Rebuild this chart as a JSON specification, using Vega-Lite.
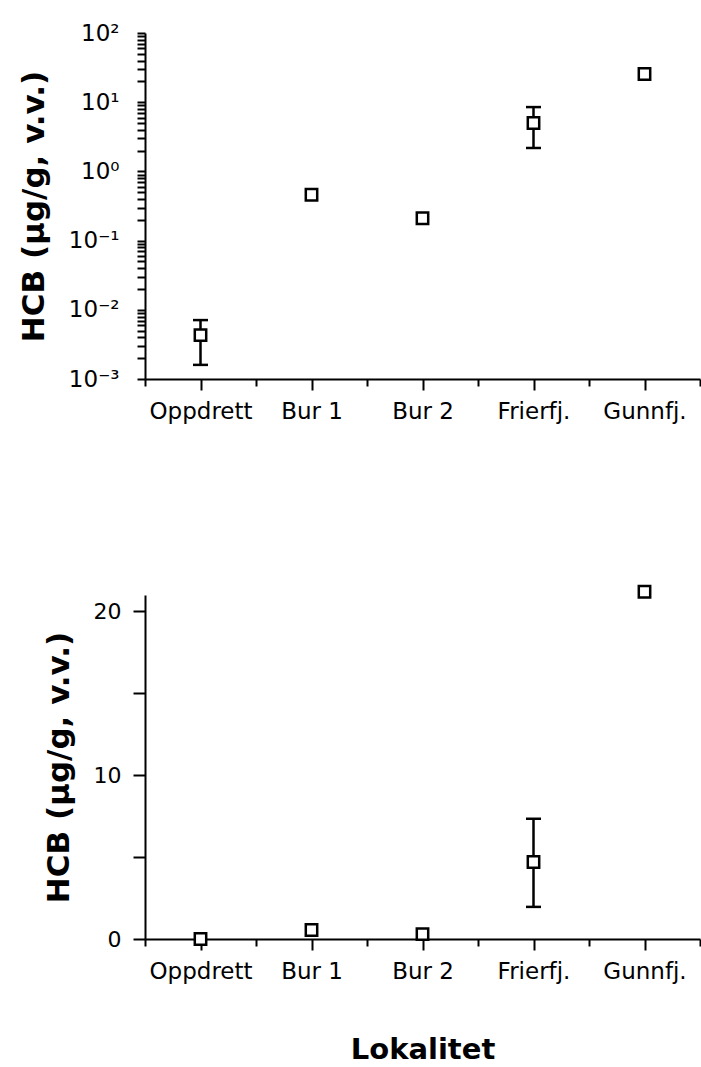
{
  "$schema": "https://vega.github.io/schema/vega-lite/v6.json",
  "background": "white",
  "padding": {"left": 18, "top": 22, "right": 0, "bottom": 0},
  "spacing": 158,
  "config": {
    "view": {"stroke": null},
    "axis": {
      "grid": false,
      "domainColor": "black",
      "domainWidth": 2,
      "tickColor": "black",
      "tickWidth": 2,
      "labelColor": "black",
      "titleColor": "black",
      "labelFont": "DejaVu Sans",
      "titleFont": "DejaVu Sans"
    }
  },
  "datasets": {
    "logpanel": [
      {"site": "Oppdrett", "value": 0.0043, "lo": 0.0016, "hi": 0.0071},
      {"site": "Bur 1", "value": 0.46, "lo": null, "hi": null},
      {"site": "Bur 2", "value": 0.21, "lo": null, "hi": null},
      {"site": "Frierfj.", "value": 5.0, "lo": 2.18, "hi": 8.5},
      {"site": "Gunnfj.", "value": 25.6, "lo": null, "hi": null}
    ],
    "linpanel": [
      {"site": "Oppdrett", "value": 0.004, "lo": null, "hi": null},
      {"site": "Bur 1", "value": 0.55, "lo": null, "hi": null},
      {"site": "Bur 2", "value": 0.3, "lo": null, "hi": null},
      {"site": "Frierfj.", "value": 4.7, "lo": 1.96, "hi": 7.34},
      {"site": "Gunnfj.", "value": 21.2, "lo": null, "hi": null}
    ]
  },
  "vconcat": [
    {
      "width": 555,
      "height": 346,
      "data": {"name": "logpanel"},
      "resolve": {"scale": {"x": "independent"}, "axis": {"x": "independent"}},
      "layer": [
        {
          "mark": {"type": "tick", "opacity": 0},
          "encoding": {
            "x": {
              "field": "site", "type": "nominal",
              "sort": ["Oppdrett", "Bur 1", "Bur 2", "Frierfj.", "Gunnfj."],
              "scale": {"type": "band", "paddingInner": 0, "paddingOuter": 0},
              "axis": {"orient": "bottom", "tickBand": "extent", "labels": false, "domain": false, "tickSize": 7, "title": null}
            },
            "y": {
              "field": "value", "type": "quantitative",
              "scale": {"type": "log", "domain": [0.001, 100], "nice": false},
              "axis": {
                "title": "HCB (µg/g, v.v.)",
                "titleFontSize": 31,
                "titleFontWeight": "bold",
                "titlePadding": 18,
                "labelFontSize": 23,
                "labelPadding": 18,
                "tickSize": 8,
                "labelOverlap": false,
                "labelFlush": false,
                "values": [0.001, 0.002, 0.003, 0.004, 0.005, 0.006, 0.007, 0.008, 0.009,
                           0.01, 0.02, 0.03, 0.04, 0.05, 0.06, 0.07, 0.08, 0.09,
                           0.1, 0.2, 0.3, 0.4, 0.5, 0.6, 0.7, 0.8, 0.9,
                           1, 2, 3, 4, 5, 6, 7, 8, 9,
                           10, 20, 30, 40, 50, 60, 70, 80, 90, 100],
                "labelExpr": "datum.value == 100 ? '10²' : datum.value == 10 ? '10¹' : datum.value == 1 ? '10⁰' : datum.value == 0.1 ? '10⁻¹' : datum.value == 0.01 ? '10⁻²' : datum.value == 0.001 ? '10⁻³' : ''"
              }
            }
          }
        },
        {
          "encoding": {
            "x": {
              "field": "site", "type": "nominal",
              "sort": ["Oppdrett", "Bur 1", "Bur 2", "Frierfj.", "Gunnfj."],
              "scale": {"type": "point", "padding": 0.5},
              "axis": {"orient": "bottom", "title": null, "labelAngle": 0, "labelFontSize": 23, "labelPadding": 10, "tickSize": 11}
            },
            "y": {
              "field": "value", "type": "quantitative",
              "scale": {"type": "log", "domain": [0.001, 100], "nice": false},
              "axis": {
                "title": "HCB (µg/g, v.v.)",
                "titleFontSize": 31,
                "titleFontWeight": "bold",
                "titlePadding": 18,
                "labelFontSize": 23,
                "labelPadding": 18,
                "tickSize": 8,
                "labelOverlap": false,
                "labelFlush": false,
                "values": [0.001, 0.002, 0.003, 0.004, 0.005, 0.006, 0.007, 0.008, 0.009,
                           0.01, 0.02, 0.03, 0.04, 0.05, 0.06, 0.07, 0.08, 0.09,
                           0.1, 0.2, 0.3, 0.4, 0.5, 0.6, 0.7, 0.8, 0.9,
                           1, 2, 3, 4, 5, 6, 7, 8, 9,
                           10, 20, 30, 40, 50, 60, 70, 80, 90, 100],
                "labelExpr": "datum.value == 100 ? '10²' : datum.value == 10 ? '10¹' : datum.value == 1 ? '10⁰' : datum.value == 0.1 ? '10⁻¹' : datum.value == 0.01 ? '10⁻²' : datum.value == 0.001 ? '10⁻³' : ''"
              }
            }
          },
          "layer": [
            {
              "mark": {"type": "rule", "color": "black", "strokeWidth": 2.5},
              "encoding": {
                "y": {"field": "lo"},
                "y2": {"field": "hi"}
              }
            },
            {
              "mark": {"type": "tick", "orient": "horizontal", "color": "black", "size": 15, "thickness": 2.5, "opacity": 1},
              "encoding": {"y": {"field": "lo"}}
            },
            {
              "mark": {"type": "tick", "orient": "horizontal", "color": "black", "size": 15, "thickness": 2.5, "opacity": 1},
              "encoding": {"y": {"field": "hi"}}
            },
            {
              "mark": {"type": "point", "shape": "square", "size": 130, "filled": true, "fill": "white", "stroke": "black", "strokeWidth": 2.5, "opacity": 1}
            }
          ]
        }
      ]
    },
    {
      "width": 555,
      "height": 344,
      "data": {"name": "linpanel"},
      "resolve": {"scale": {"x": "independent"}, "axis": {"x": "independent"}},
      "layer": [
        {
          "mark": {"type": "tick", "opacity": 0},
          "encoding": {
            "x": {
              "field": "site", "type": "nominal",
              "sort": ["Oppdrett", "Bur 1", "Bur 2", "Frierfj.", "Gunnfj."],
              "scale": {"type": "band", "paddingInner": 0, "paddingOuter": 0},
              "axis": {"orient": "bottom", "tickBand": "extent", "labels": false, "domain": false, "tickSize": 7, "title": null}
            },
            "y": {
              "field": "value", "type": "quantitative",
              "scale": {"domain": [0, 21], "nice": false, "zero": true},
              "axis": {
                "title": "HCB (µg/g, v.v.)",
                "titleFontSize": 31,
                "titleFontWeight": "bold",
                "titlePadding": 18,
                "labelFontSize": 22,
                "labelPadding": 12,
                "tickSize": 12,
                "labelOverlap": false,
                "labelFlush": false,
                "values": [0, 5, 10, 15, 20],
                "labelExpr": "datum.value % 10 == 0 ? datum.label : ''"
              }
            }
          }
        },
        {
          "encoding": {
            "x": {
              "field": "site", "type": "nominal",
              "sort": ["Oppdrett", "Bur 1", "Bur 2", "Frierfj.", "Gunnfj."],
              "scale": {"type": "point", "padding": 0.5},
              "axis": {"orient": "bottom", "title": "Lokalitet", "titleFontSize": 29, "titleFontWeight": "bold", "titlePadding": 52, "labelAngle": 0, "labelFontSize": 23, "labelPadding": 10, "tickSize": 11}
            },
            "y": {
              "field": "value", "type": "quantitative",
              "scale": {"domain": [0, 21], "nice": false, "zero": true},
              "axis": {
                "title": "HCB (µg/g, v.v.)",
                "titleFontSize": 31,
                "titleFontWeight": "bold",
                "titlePadding": 18,
                "labelFontSize": 22,
                "labelPadding": 12,
                "tickSize": 12,
                "labelOverlap": false,
                "labelFlush": false,
                "values": [0, 5, 10, 15, 20],
                "labelExpr": "datum.value % 10 == 0 ? datum.label : ''"
              }
            }
          },
          "layer": [
            {
              "mark": {"type": "rule", "color": "black", "strokeWidth": 2.5},
              "encoding": {
                "y": {"field": "lo"},
                "y2": {"field": "hi"}
              }
            },
            {
              "mark": {"type": "tick", "orient": "horizontal", "color": "black", "size": 15, "thickness": 2.5, "opacity": 1},
              "encoding": {"y": {"field": "lo"}}
            },
            {
              "mark": {"type": "tick", "orient": "horizontal", "color": "black", "size": 15, "thickness": 2.5, "opacity": 1},
              "encoding": {"y": {"field": "hi"}}
            },
            {
              "mark": {"type": "point", "shape": "square", "size": 130, "filled": true, "fill": "white", "stroke": "black", "strokeWidth": 2.5, "opacity": 1}
            }
          ]
        }
      ]
    }
  ]
}
